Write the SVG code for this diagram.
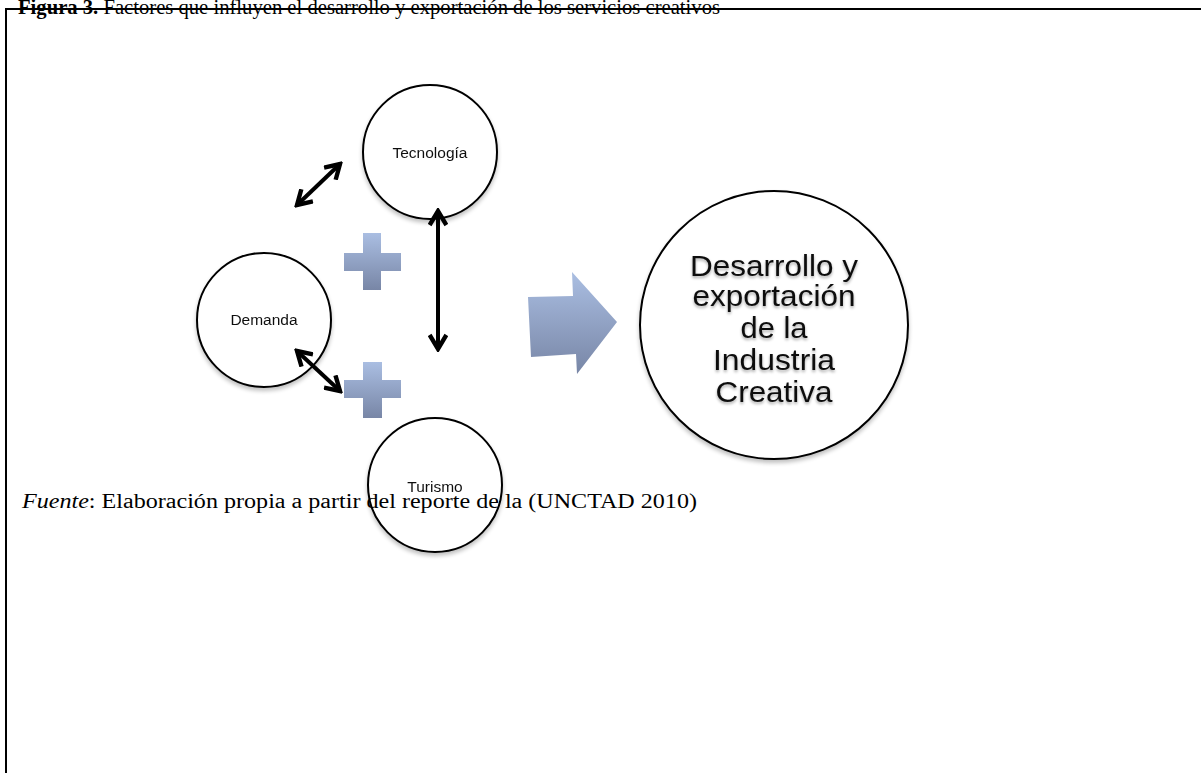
<svg xmlns="http://www.w3.org/2000/svg" width="1201" height="773" viewBox="0 0 1201 773">
  <defs>
    <linearGradient id="blueGrad" x1="0" y1="0" x2="0" y2="1">
      <stop offset="0" stop-color="#aabee2"/>
      <stop offset="1" stop-color="#7886a6"/>
    </linearGradient>
    <filter id="shadow" x="-20%" y="-20%" width="140%" height="140%">
      <feGaussianBlur in="SourceAlpha" stdDeviation="2"/>
      <feOffset dx="0" dy="3" result="b"/>
      <feComponentTransfer><feFuncA type="linear" slope="0.25"/></feComponentTransfer>
      <feMerge><feMergeNode/><feMergeNode in="SourceGraphic"/></feMerge>
    </filter>
    <filter id="tshadow" x="-10%" y="-30%" width="120%" height="160%">
      <feGaussianBlur in="SourceAlpha" stdDeviation="1.5"/>
      <feOffset dx="0" dy="2" result="b"/>
      <feComponentTransfer><feFuncA type="linear" slope="0.35"/></feComponentTransfer>
      <feMerge><feMergeNode/><feMergeNode in="SourceGraphic"/></feMerge>
    </filter>
    <marker id="chev" viewBox="0 0 10 10" refX="8.5" refY="5" markerWidth="5" markerHeight="5" orient="auto-start-reverse" markerUnits="strokeWidth">
      <path d="M1.5,0.8 L8.5,5 L1.5,9.2" fill="none" stroke="#000" stroke-width="2.2" stroke-linejoin="miter"/>
    </marker>
    <style>
      .node { fill: #fff; stroke: #000; stroke-width: 2; }
      .lbl { font-family: "Liberation Sans", Arial, sans-serif; fill: #111; text-anchor: middle; }
      .conn { stroke: #000; stroke-width: 4; fill: none; }
      .plus { fill: url(#blueGrad); }
      .serif { font-family: "Liberation Serif", "Times New Roman", serif; fill: #000; }
    </style>
  </defs>

  <rect width="1201" height="773" fill="#fff"/>

  <g id="frame">
    <line x1="5" y1="9" x2="1201" y2="9" stroke="#000" stroke-width="2"/>
    <line x1="6" y1="8" x2="6" y2="773" stroke="#000" stroke-width="2"/>
  </g>

  <g id="title">
    <text class="serif" x="18" y="14" font-size="20" textLength="702" lengthAdjust="spacingAndGlyphs"><tspan font-weight="bold">Figura 3.</tspan> Factores que influyen el desarrollo y exportación de los servicios creativos</text>
  </g>

  <g id="node-tecnologia" filter="url(#shadow)">
    <circle class="node" cx="430" cy="152" r="67"/>
    <text class="lbl" x="430" y="158" font-size="15.5">Tecnología</text>
  </g>

  <g id="node-demanda" filter="url(#shadow)">
    <circle class="node" cx="264" cy="320" r="67"/>
    <text class="lbl" x="264" y="325" font-size="15.5">Demanda</text>
  </g>

  <g id="node-turismo" filter="url(#shadow)">
    <circle class="node" cx="435" cy="485" r="67"/>
    <text class="lbl" x="435" y="492" font-size="15.5">Turismo</text>
  </g>

  <g id="node-industria">
    <circle class="node" cx="774" cy="325" r="134" filter="url(#shadow)"/>
    <g class="lbl" font-size="29" filter="url(#tshadow)">
      <text x="774" y="276" textLength="168" lengthAdjust="spacingAndGlyphs">Desarrollo y</text>
      <text x="774" y="306" textLength="163" lengthAdjust="spacingAndGlyphs">exportación</text>
      <text x="774" y="338" textLength="67" lengthAdjust="spacingAndGlyphs">de la</text>
      <text x="774" y="370" textLength="122" lengthAdjust="spacingAndGlyphs">Industria</text>
      <text x="774" y="402" textLength="117" lengthAdjust="spacingAndGlyphs">Creativa</text>
    </g>
  </g>

  <g id="plus-1">
    <path class="plus" d="M363,233 H381 V253 H401 V271 H381 V290 H363 V271 H344 V253 H363 Z"/>
  </g>
  <g id="plus-2">
    <path class="plus" d="M363,362 H382 V380 H401 V398 H382 V418 H363 V398 H344 V380 H363 Z"/>
  </g>

  <g id="block-arrow">
    <polygon fill="url(#blueGrad)" points="528,297 573,296 572,272 617,322 577,374 576,354 531,357"/>
  </g>

  <g id="connectors">
    <line class="conn" x1="297" y1="205" x2="340" y2="164" marker-start="url(#chev)" marker-end="url(#chev)"/>
    <line class="conn" x1="438" y1="211" x2="438" y2="349" marker-start="url(#chev)" marker-end="url(#chev)"/>
    <line class="conn" x1="297" y1="351" x2="340" y2="391" marker-start="url(#chev)" marker-end="url(#chev)"/>
  </g>

  <g id="source">
    <text class="serif" x="22" y="508" font-size="20" textLength="675" lengthAdjust="spacingAndGlyphs"><tspan font-style="italic">Fuente</tspan>: Elaboración propia a partir del reporte de la (UNCTAD 2010)</text>
  </g>
</svg>
